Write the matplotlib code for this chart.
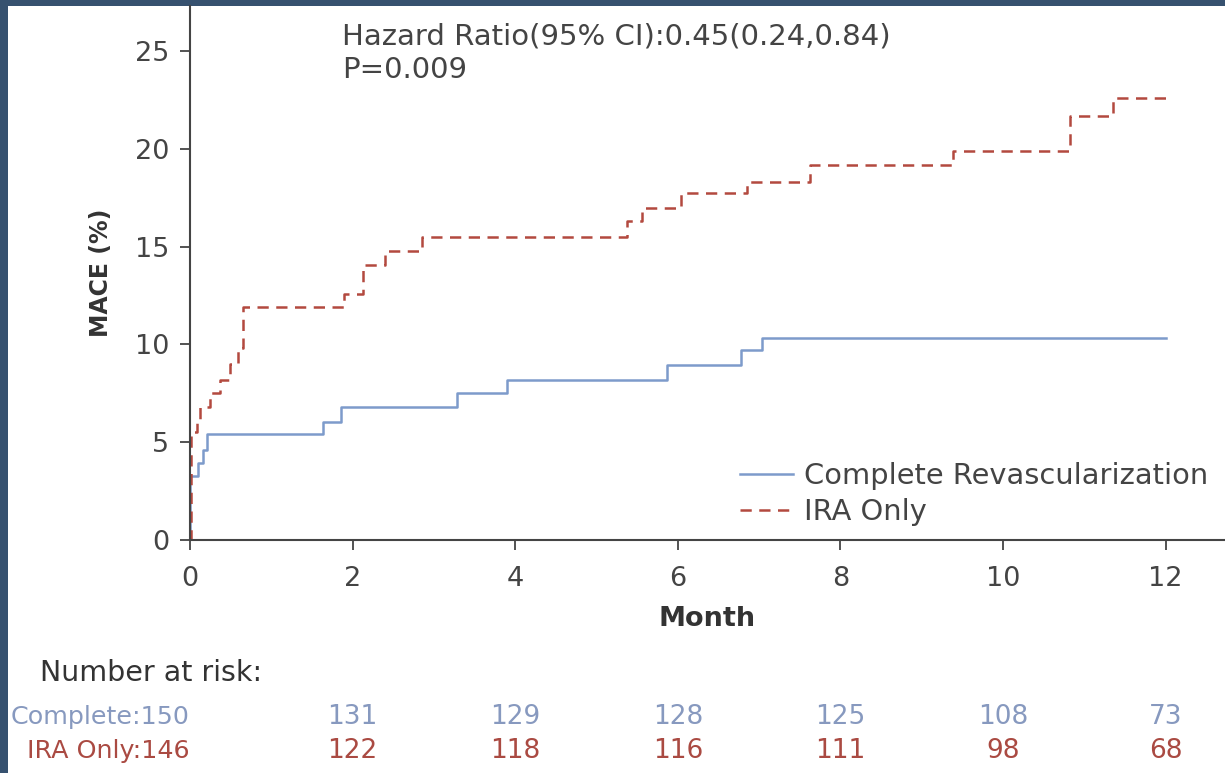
import matplotlib
matplotlib.use("Agg")
import matplotlib.pyplot as plt
from matplotlib.patches import Rectangle
from matplotlib.transforms import blended_transform_factory

plt.rcParams['font.family'] = ['DejaVu Sans']

# Kaplan-Meier cumulative MACE (%) step points
complete_t = [0, 0, 0.10, 0.155, 0.21, 1.63, 1.86, 3.28, 3.90, 5.87, 6.78, 7.04, 12.0]
complete_y = [0, 3.25, 3.95, 4.6, 5.44, 6.04, 6.8, 7.53, 8.2, 8.96, 9.69, 10.34, 10.34]

ira_t = [0, 0.01, 0.08, 0.12, 0.25, 0.37, 0.49, 0.59, 0.65, 1.90, 2.13, 2.40, 2.85,
         5.37, 5.56, 6.04, 6.85, 7.63, 9.39, 10.82, 11.35, 12.02]
ira_y = [0, 5.5, 6.04, 6.8, 7.5, 8.16, 9.0, 9.8, 11.9, 12.6, 14.08, 14.8, 15.5,
         16.3, 16.97, 17.72, 18.3, 19.18, 19.9, 21.7, 22.6, 22.6]

# Number at risk table
risk_months = [0, 2, 4, 6, 8, 10, 12]
risk_complete = [150, 131, 129, 128, 125, 108, 73]
risk_ira = [146, 122, 118, 116, 111, 98, 68]

x_ticks = [0, 2, 4, 6, 8, 10, 12]
y_ticks = [0, 5, 10, 15, 20, 25]

blue = '#7d9bcb'
red = '#b3493f'
blue_txt = '#8799bf'
red_txt = '#aa4a42'
grey = '#444444'
navy = '#36516f'

W, H = 1225, 773
fig = plt.figure(figsize=(W / 100, H / 100), dpi=100, facecolor=navy)
fig.patches.append(Rectangle((8 / W, 0), 1 - 8 / W, 1 - 6 / H, transform=fig.transFigure,
                             facecolor='white', edgecolor='none', zorder=-1))

ax = fig.add_axes([190 / W, 233 / H, (W - 190) / W, (767 - 233) / H])
ax.set_facecolor('none')
ax.set_zorder(1)

ax.plot(complete_t, complete_y, drawstyle='steps-post', color=blue, lw=1.8,
        label='Complete Revascularization')
ax.plot(ira_t, ira_y, drawstyle='steps-post', color=red, lw=1.8,
        dashes=(4.5, 3), label='IRA Only')

ax.set_xlim(0, 12.73)
ax.set_ylim(0, 27.3)
ax.set_xticks(x_ticks)
ax.set_yticks(y_ticks)
for s in ['top', 'right']:
    ax.spines[s].set_visible(False)
for s in ['left', 'bottom']:
    ax.spines[s].set_color(grey)
    ax.spines[s].set_linewidth(1.5)
ax.tick_params(axis='both', length=7, width=1.3, color=grey, labelcolor=grey,
               labelsize=19.5)
ax.tick_params(axis='x', pad=12)
ax.tick_params(axis='y', pad=8)

ax.set_xlabel('Month', fontsize=19.5, fontweight='bold', color='#333333', labelpad=10)
ax.set_ylabel('MACE (%)', fontsize=17, fontweight='bold', color='#333333', labelpad=16)

ax.legend(loc='center left', bbox_to_anchor=(740 / W, 1 - 494 / H),
          bbox_transform=fig.transFigure, frameon=False, fontsize=20.8,
          handlelength=1.85, handletextpad=0.35, labelspacing=0.3,
          borderpad=0, borderaxespad=0, labelcolor=grey)

fig.text(342 / W, 1 - 36 / H, 'Hazard Ratio(95% CI):0.45(0.24,0.84)', fontsize=21,
         color=grey, va='center', ha='left')
fig.text(342 / W, 1 - 70 / H, 'P=0.009', fontsize=21, color=grey, va='center', ha='left')

fig.text(40 / W, 1 - 673 / H, 'Number at risk:', fontsize=20.5, color='#333333',
         va='center', ha='left')

tr = blended_transform_factory(ax.transData, fig.transFigure)
for i, m in enumerate(risk_months):
    if i == 0:
        ax.text(m, 1 - 717 / H, f'Complete:{risk_complete[i]}', transform=tr, ha='right',
                va='center', fontsize=18.3, color=blue_txt, clip_on=False)
        ax.text(m, 1 - 751 / H, f'IRA Only:{risk_ira[i]}', transform=tr, ha='right',
                va='center', fontsize=18.3, color=red_txt, clip_on=False)
    else:
        ax.text(m, 1 - 717 / H, str(risk_complete[i]), transform=tr, ha='center',
                va='center', fontsize=19, color=blue_txt, clip_on=False)
        ax.text(m, 1 - 751 / H, str(risk_ira[i]), transform=tr, ha='center',
                va='center', fontsize=19, color=red_txt, clip_on=False)

fig.savefig('out.png', dpi=100, facecolor=navy)
